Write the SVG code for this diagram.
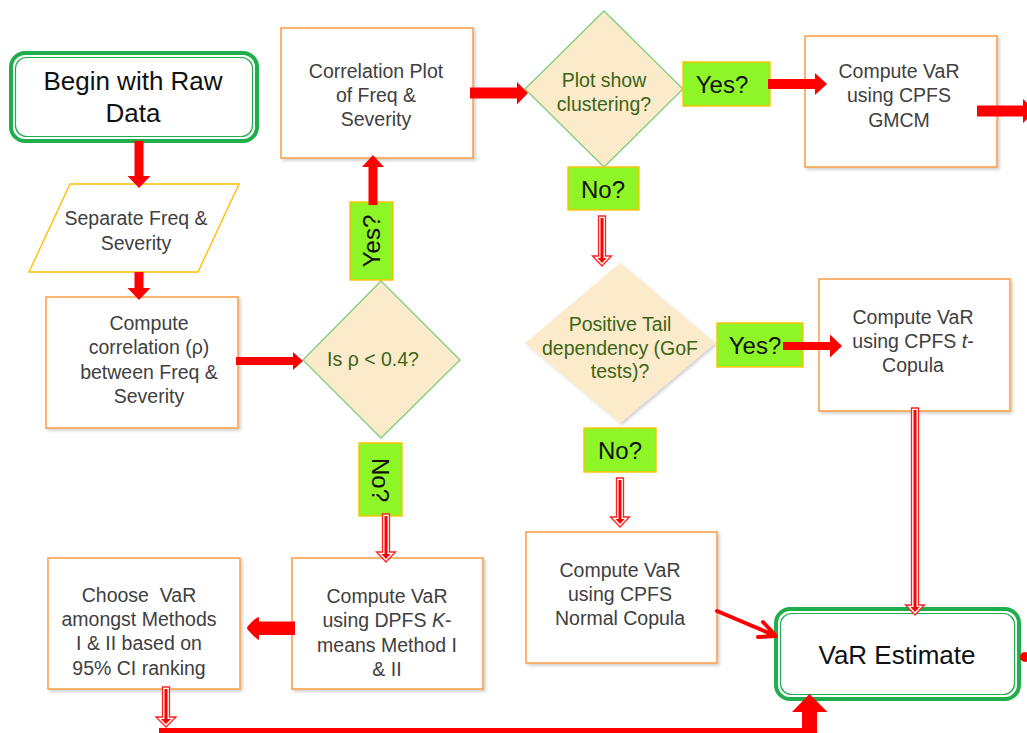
<svg xmlns="http://www.w3.org/2000/svg" width="1027" height="733" viewBox="0 0 1027 733">
<defs>
<filter id="sh" x="-5%" y="-5%" width="115%" height="115%">
<feDropShadow dx="2" dy="2" stdDeviation="1.5" flood-color="#000" flood-opacity="0.18"/>
</filter>
</defs>
<style>
.box{fill:#fff;stroke:#F9A24B;stroke-width:1.6;filter:url(#sh)}
.para{fill:#fff;stroke:#FFC000;stroke-width:1.4}
.dia{fill:#FCEBCA;stroke:#7ED07E;stroke-width:1.3}
.dia2{fill:#FCEBCA;filter:url(#sh)}
.lbl{fill:#8EF527;stroke:#FFC000;stroke-width:1.4}
.gout{fill:#fff;stroke:#1FAE4B;stroke-width:4}
.gin{fill:none;stroke:#1FAE4B;stroke-width:1.2}
.t{font-family:"Liberation Sans",Arial,sans-serif;font-size:19.5px;fill:#404040;text-anchor:middle}
.dt{font-family:"Liberation Sans",Arial,sans-serif;font-size:19.5px;fill:#3A6518;text-anchor:middle}
.big{font-family:"Liberation Sans",Arial,sans-serif;font-size:26px;fill:#111;text-anchor:middle}
.lt{font-family:"Liberation Sans",Arial,sans-serif;font-size:24px;fill:#111;text-anchor:middle}
.sol{fill:#FF0000}
.hol{fill:#fff;stroke:#FF2020;stroke-width:1.3}
.core{fill:#FF0000}
</style>

<g id="begin">
<rect class="gout" x="11" y="53" width="246" height="88" rx="14"/>
<rect class="gin" x="15.5" y="57.5" width="237" height="79" rx="11"/>
<text class="big" x="133" y="90">Begin with Raw</text>
<text class="big" x="133" y="122">Data</text>
</g>

<g id="separate">
<polygon class="para" points="70,184 239,184 198,272 29,272"/>
<text class="t" x="136" y="225">Separate Freq &amp;</text>
<text class="t" x="136" y="250">Severity</text>
</g>

<g id="correlation">
<rect class="box" x="46" y="297" width="192" height="131"/>
<text class="t" x="149" y="330">Compute</text>
<text class="t" x="149" y="354">correlation (ρ)</text>
<text class="t" x="149" y="379">between Freq &amp;</text>
<text class="t" x="149" y="403">Severity</text>
</g>

<g id="rho-decision">
<polygon class="dia" points="381,281 460,360 381,438 303,360"/>
<text class="dt" x="373" y="366">Is ρ &lt; 0.4?</text>
</g>

<g id="yes-rho">
<rect class="lbl" x="350" y="202" width="43" height="78"/>
<text class="lt" transform="translate(380,241) rotate(-90)">Yes?</text>
</g>

<g id="no-rho">
<rect class="lbl" x="359" y="443" width="43" height="73"/>
<text class="lt" transform="translate(372,480) rotate(90)">No?</text>
</g>

<g id="corr-plot">
<rect class="box" x="281" y="28" width="192" height="130"/>
<text class="t" x="376" y="78">Correlation Plot</text>
<text class="t" x="376" y="102">of Freq &amp;</text>
<text class="t" x="376" y="126">Severity</text>
</g>

<g id="cluster-decision">
<polygon class="dia" points="604,11 683,89 604,167 525,89"/>
<text class="dt" x="604" y="87">Plot show</text>
<text class="dt" x="604" y="111">clustering?</text>
</g>

<g id="yes-cluster">
<rect class="lbl" x="683" y="62" width="87" height="44"/>
<text class="lt" x="722" y="93">Yes?</text>
</g>

<g id="no-cluster">
<rect class="lbl" x="568" y="167" width="71" height="43"/>
<text class="lt" x="603" y="198">No?</text>
</g>

<g id="gmcm">
<rect class="box" x="805" y="36" width="192" height="131"/>
<text class="t" x="899" y="78">Compute VaR</text>
<text class="t" x="899" y="102">using CPFS</text>
<text class="t" x="899" y="127">GMCM</text>
</g>

<g id="tail-decision">
<polygon class="dia2" points="620,263 715,343 620,423 525,343"/>
<text class="dt" x="620" y="331">Positive Tail</text>
<text class="dt" x="620" y="355">dependency (GoF</text>
<text class="dt" x="620" y="378">tests)?</text>
</g>

<g id="yes-tail">
<rect class="lbl" x="717" y="323" width="86" height="44"/>
<text class="lt" x="755" y="354">Yes?</text>
</g>

<g id="no-tail">
<rect class="lbl" x="584" y="428" width="72" height="44"/>
<text class="lt" x="620" y="459">No?</text>
</g>

<g id="t-copula">
<rect class="box" x="819" y="279" width="191" height="132"/>
<text class="t" x="913" y="324">Compute VaR</text>
<text class="t" x="913" y="348">using CPFS <tspan font-style="italic">t</tspan>-</text>
<text class="t" x="913" y="372">Copula</text>
</g>

<g id="normal-copula">
<rect class="box" x="526" y="532" width="191" height="131"/>
<text class="t" x="620" y="577">Compute VaR</text>
<text class="t" x="620" y="601">using CPFS</text>
<text class="t" x="620" y="625">Normal Copula</text>
</g>

<g id="dpfs">
<rect class="box" x="292" y="558" width="191" height="131"/>
<text class="t" x="387" y="603">Compute VaR</text>
<text class="t" x="387" y="627">using DPFS <tspan font-style="italic">K</tspan>-</text>
<text class="t" x="387" y="652">means Method I</text>
<text class="t" x="387" y="676">&amp; II</text>
</g>

<g id="choose">
<rect class="box" x="48" y="558" width="192" height="131"/>
<text class="t" x="139" y="602">Choose&#160; VaR</text>
<text class="t" x="139" y="626">amongst Methods</text>
<text class="t" x="139" y="650">I &amp; II based on</text>
<text class="t" x="139" y="675">95% CI ranking</text>
</g>

<g id="var-estimate">
<rect class="gout" x="776" y="609" width="243" height="90" rx="14"/>
<rect class="gin" x="780.5" y="613.5" width="234" height="81" rx="11"/>
<text class="big" x="897" y="664">VaR Estimate</text>
</g>

<g id="connectors">
<polygon class="sol" points="134.5,141 143.5,141 143.5,176 150.5,176 139,188 127.5,176 134.5,176"/>
<polygon class="sol" points="134.5,272 143.5,272 143.5,288 150.5,288 139,300 127.5,288 134.5,288"/>
<polygon class="sol" points="236,357 293,357 293,352 303,361 293,370 293,365 236,365"/>
<polygon class="sol" points="368.5,205 377.5,205 377.5,167 384,167 373,155 362,167 368.5,167"/>
<polygon class="sol" points="470,87.5 517,87.5 517,82 528,93 517,104.5 517,98.5 470,98.5"/>
<polygon class="sol" points="768,79 815,79 815,73 827,84 815,95 815,89 768,89"/>
<polygon class="sol" points="977,105.5 1023,105.5 1023,99 1036,111 1023,123 1023,116.5 977,116.5"/>
<polygon class="hol" points="598.5,216 605.5,216 605.5,256 611.5,256 602,266 592.5,256 598.5,256"/>
<polygon class="core" points="600.5,218 603.5,218 603.5,258 606.5,258 602,263 597.5,258 600.5,258"/>
<polygon class="sol" points="783,342 830,342 830,334.5 842,346 830,357.5 830,350 783,350"/>
<polygon class="hol" points="616.5,478 623.5,478 623.5,517 629.5,517 620,527 610.5,517 616.5,517"/>
<polygon class="core" points="618.5,480 621.5,480 621.5,519 624.5,519 620,524 615.5,519 618.5,519"/>
<polygon class="hol" points="911.5,408 918.5,408 918.5,605 924.5,605 915,615 905.5,605 911.5,605"/>
<polygon class="core" points="913.5,410 916.5,410 916.5,607 919.5,607 915,612 910.5,607 913.5,607"/>
<path d="M717,611 L776,636 M763,622 L776,636 L758,637" fill="none" stroke="#FF0000" stroke-width="4" stroke-linecap="round" stroke-linejoin="round"/>
<polygon class="hol" points="382.5,514 389.5,514 389.5,552 395.5,552 386,562 376.5,552 382.5,552"/>
<polygon class="core" points="384.5,516 387.5,516 387.5,554 390.5,554 386,559 381.5,554 384.5,554"/>
<path class="sol" d="M295,621.5 L259,621.5 L259,617 Q256,617 248,626 Q246,628 248,630 Q256,639 259,640 L259,635 L295,635 Z"/>
<polygon class="hol" points="162.5,687 169.5,687 169.5,717 176,717 166,727 156,717 162.5,717"/>
<polygon class="core" points="164.5,689 167.5,689 167.5,719 171,719 166,724 161,719 164.5,719"/>
<rect class="sol" x="159" y="728" width="658" height="6"/>
<polygon class="sol" points="802,734 817,734 817,712 827.5,712 809.5,694 792,712 802,712"/>
<circle class="sol" cx="1025" cy="657" r="5"/>
</g>
</svg>
